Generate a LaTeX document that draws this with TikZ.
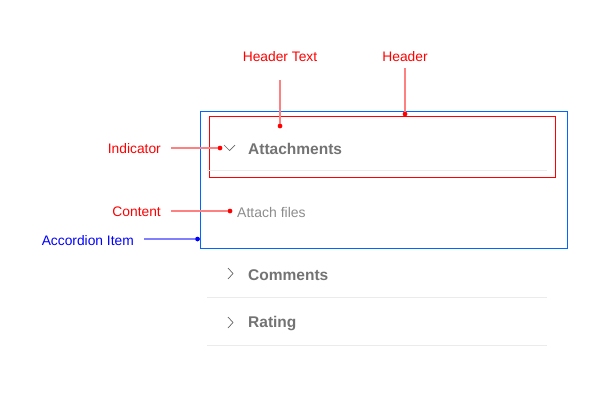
\documentclass[tikz,border=0pt]{standalone}
\usepackage{fontspec}
\setmainfont{Liberation Sans}
\begin{document}
\begin{tikzpicture}[x=1pt,y=-1pt,
  lbl/.style={font=\fontsize{13.8}{15}\selectfont, inner sep=0pt},
  redlbl/.style={lbl, text=red},
  bluelbl/.style={lbl, text=blue},
  redlead/.style={draw=red!50, line width=1.2pt},
  bluelead/.style={draw=blue!50, line width=1.2pt},
  reddot/.style={circle, fill=red, inner sep=0pt, minimum size=4.5pt},
  bluedot/.style={circle, fill=blue, inner sep=0pt, minimum size=4.5pt},
  headtxt/.style={font=\fontsize{15.5}{17}\selectfont\bfseries, text=black!55, inner sep=0pt, anchor=west},
  conttxt/.style={font=\fontsize{14}{16}\selectfont, text=black!45, inner sep=0pt, anchor=west},
  divider/.style={draw=black!8, line width=1pt},
  chev/.style={draw=black!60, line width=0.7pt},
]
\useasboundingbox (0,0) rectangle (593,400);
% accordion item (blue) and header (red)
\draw[draw={rgb,255:red,0;green,102;blue,255}, line width=0.8pt] (200,111) rectangle (567,248);
\draw[draw=red, line width=0.8pt] (209,116.5) rectangle (555,177);
% dividers
\draw[divider] (207,170) -- (547,170);
\draw[divider] (207,297) -- (547,297);
\draw[divider] (207,345) -- (547,345);
% chevrons
\draw[chev] (224,145) -- (229.5,150.5) -- (235,145);
\draw[chev] (228,268) -- (233,273.5) -- (228,279);
\draw[chev] (228,317) -- (233,322.5) -- (228,328);
% header texts
\node[headtxt] (att) at (248,148.5) {Attachments};
\node[headtxt] (com) at (248,275) {Comments};
\node[headtxt] (rat) at (248,324) {Rating};
\node[conttxt] (files) at (237,212) {Attach files};
% labels
\node[redlbl] (lht) at (280,57) {Header Text};
\node[redlbl] (lh) at (405,57) {Header};
\node[redlbl, anchor=east] (lind) at (161,149) {Indicator};
\node[redlbl, anchor=east] (lcon) at (161,212) {Content};
\node[bluelbl, anchor=east] (lacc) at (134,240.5) {Accordion Item};
% dots
\node[reddot] (dht) at (280,126) {};
\node[reddot] (dh) at (405,114) {};
\node[reddot] (dind) at (220,148) {};
\node[reddot] (dcon) at (230,211) {};
\node[bluedot] (dacc) at (197.5,239) {};
% leaders
\coordinate (sht) at (280,80);
\coordinate (sh) at (405,68);
\coordinate (sind) at (171,148);
\coordinate (scon) at (171,211);
\coordinate (sacc) at (144,239);
\draw[redlead] (sht) -- (dht.center);
\draw[redlead] (sh) -- (dh.center);
\draw[redlead] (sind) -- (dind.center);
\draw[redlead] (scon) -- (dcon.center);
\draw[bluelead] (sacc) -- (dacc.center);
\node[reddot] at (dht) {};
\node[reddot] at (dh) {};
\node[reddot] at (dind) {};
\node[reddot] at (dcon) {};
\node[bluedot] at (dacc) {};
\end{tikzpicture}
\end{document}
